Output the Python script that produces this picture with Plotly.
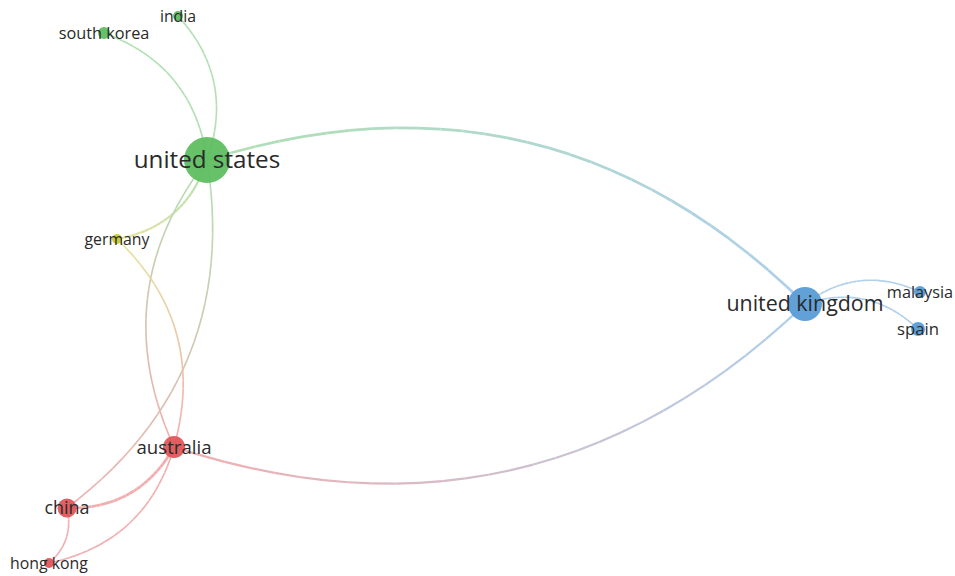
import numpy as np
import plotly.graph_objects as go

# ---- data ----
countries = ["united states", "india", "south korea", "germany", "australia",
             "china", "hong kong", "united kingdom", "malaysia", "spain"]
pos_x = [207, 178, 104, 117, 174, 67, 49, 805, 920, 918]
pos_y = [160, 16, 33, 239, 447, 508, 563, 304, 292, 329]
weights = [46, 10, 12, 10, 22, 19, 10, 34, 12, 14]
clusters = ["green", "green", "green", "yellow", "red", "red", "red", "blue", "blue", "blue"]

link_source = ["united states", "india", "south korea", "united states", "australia",
               "united states", "germany", "australia", "australia", "china",
               "united kingdom", "united kingdom", "united kingdom"]
link_target = ["united kingdom", "united states", "united states", "germany", "united states",
               "china", "australia", "china", "hong kong", "hong kong",
               "australia", "malaysia", "spain"]
link_strength = [3, 1, 1, 2, 1, 1, 1, 3, 1, 1, 2, 1, 1]

# ---- style ----
cluster_rgb = {
    "green": (94, 190, 96),
    "yellow": (200, 200, 52),
    "red": (226, 86, 90),
    "blue": (88, 156, 214),
}
BEND = 0.15
NSEG = 28
LABEL_DY = 2


def mix_white(c, f):
    return tuple(int(round(v + (255 - v) * f)) for v in c)


idx = {n: i for i, n in enumerate(countries)}
fig = go.Figure()

for s, t, w in zip(link_source, link_target, link_strength):
    i, j = idx[s], idx[t]
    p0 = np.array([pos_x[i], pos_y[i]], float)
    p2 = np.array([pos_x[j], pos_y[j]], float)
    d = p2 - p0
    L = np.hypot(*d)
    n = np.array([d[1], -d[0]]) / L
    c = (p0 + p2) / 2 + 2 * BEND * L * n
    ts = np.linspace(0, 1, NSEG + 1)
    pts = [(1 - tt) ** 2 * p0 + 2 * tt * (1 - tt) * c + tt ** 2 * p2 for tt in ts]
    c0 = np.array(cluster_rgb[clusters[i]], float)
    c1 = np.array(cluster_rgb[clusters[j]], float)
    width = 1.1 + 0.55 * w
    for k in range(NSEG):
        tm = (ts[k] + ts[k + 1]) / 2
        col = mix_white(tuple(c0 * (1 - tm) + c1 * tm), 0.52)
        fig.add_trace(go.Scatter(
            x=[pts[k][0], pts[k + 1][0]], y=[pts[k][1], pts[k + 1][1]],
            mode="lines", line=dict(color="rgb(%d,%d,%d)" % col, width=width),
            hoverinfo="skip", showlegend=False))

node_colors = ["rgb(%d,%d,%d)" % cluster_rgb[c] for c in clusters]
fig.add_trace(go.Scatter(
    x=pos_x, y=pos_y, mode="markers",
    marker=dict(size=weights, color=node_colors, opacity=0.95, line=dict(width=0)),
    hovertext=countries, hoverinfo="text", showlegend=False))

font_sizes = [13.5 + 0.233 * w for w in weights]
fig.add_trace(go.Scatter(
    x=pos_x, y=[v + LABEL_DY for v in pos_y], mode="text", text=countries,
    textposition="middle center",
    textfont=dict(family="Open Sans", size=font_sizes, color="#2a2a2a"),
    hoverinfo="skip", showlegend=False))

fig.update_layout(
    width=955, height=576,
    margin=dict(l=0, r=0, t=0, b=0),
    paper_bgcolor="white", plot_bgcolor="white",
    xaxis=dict(range=[0, 955], visible=False, fixedrange=True),
    yaxis=dict(range=[576, 0], visible=False, fixedrange=True),
)

fig.write_html("out.html", config={"displayModeBar": False},
               post_script="document.body.style.margin='0';document.body.style.overflow='hidden';")
